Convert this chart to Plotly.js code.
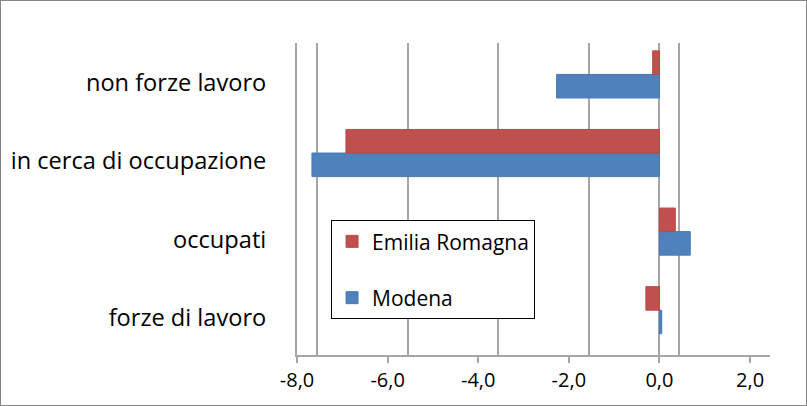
<!DOCTYPE html>
<html><head><meta charset="utf-8">
<script src="https://cdn.plot.ly/plotly-3.0.1.min.js"></script>
<style>
html,body{margin:0;padding:0;background:#fff;}
#chart{width:805px;height:404px;border:1px solid #868686;}
</style></head>
<body><div id="chart"></div>
<script>
var categories = ["forze di lavoro", "occupati", "in cerca di occupazione", "non forze lavoro"];
var modena = [0.05, 0.68, -7.67, -2.27];
var emiliaRomagna = [-0.3, 0.35, -6.92, -0.15];
var tickValues = [-8, -6, -4, -2, 0, 2];
var tickLabels = ["-8,0", "-6,0", "-4,0", "-2,0", "0,0", "2,0"];

var FONT = "'Open Sans', sans-serif";
var depth = 0.44;

var traces = [
  {type:'bar', orientation:'h', name:'Modena', y:categories, x:modena,
   offset:-0.2, width:0.3, legendrank:2, legendgroup:'m',
   marker:{color:'#4F81BD', line:{color:'#4A7AB3', width:1}}},
  {type:'bar', orientation:'h', name:'Emilia Romagna', y:categories, x:emiliaRomagna,
   offset:0.1, width:0.3, legendrank:1, legendgroup:'e',
   marker:{color:'#C0504D', line:{color:'#B44B48', width:1}}},
  {type:'scatter', x:[0], y:[categories[0]], xaxis:'x2', mode:'none', showlegend:false, hoverinfo:'skip'}
];

var layout = {
  width:805, height:404,
  margin:{l:296, r:36, t:42, b:50},
  paper_bgcolor:'#fff', plot_bgcolor:'rgba(0,0,0,0)',
  font:{family:FONT, size:17, color:'#000'},
  separators:',.',
  barmode:'overlay',
  xaxis:{range:[-8, 2 + depth], tickvals:tickValues, ticktext:tickLabels,
         showgrid:false, zeroline:true, zerolinecolor:'#a6a6a6', zerolinewidth:2,
         showline:true, linecolor:'#a6a6a6', linewidth:2,
         ticks:'outside', ticklen:6, tickcolor:'#a6a6a6', tickwidth:2,
         tickfont:{size:20, family:FONT}},
  xaxis2:{overlaying:'x', range:[-8 - depth, 2], tickvals:tickValues,
          showticklabels:false, showgrid:true, gridcolor:'#a6a6a6', gridwidth:2,
          zeroline:false, showline:false, ticks:''},
  yaxis:{categoryorder:'array', categoryarray:categories, range:[-0.47, 3.5],
         showgrid:false, showline:true, linecolor:'#a6a6a6', linewidth:2,
         ticks:'', ticklabelstandoff:24, tickfont:{size:23.6, family:FONT}},
  legend:{x:0.072, y:0.432, xanchor:'left', yanchor:'top',
          bgcolor:'#fff', bordercolor:'#000', borderwidth:1,
          traceorder:'grouped', tracegroupgap:26, itemwidth:30,
          font:{size:21, family:FONT}},
  showlegend:true
};

Plotly.newPlot('chart', traces, layout, {displayModeBar:false, staticPlot:true});
</script></body></html>
